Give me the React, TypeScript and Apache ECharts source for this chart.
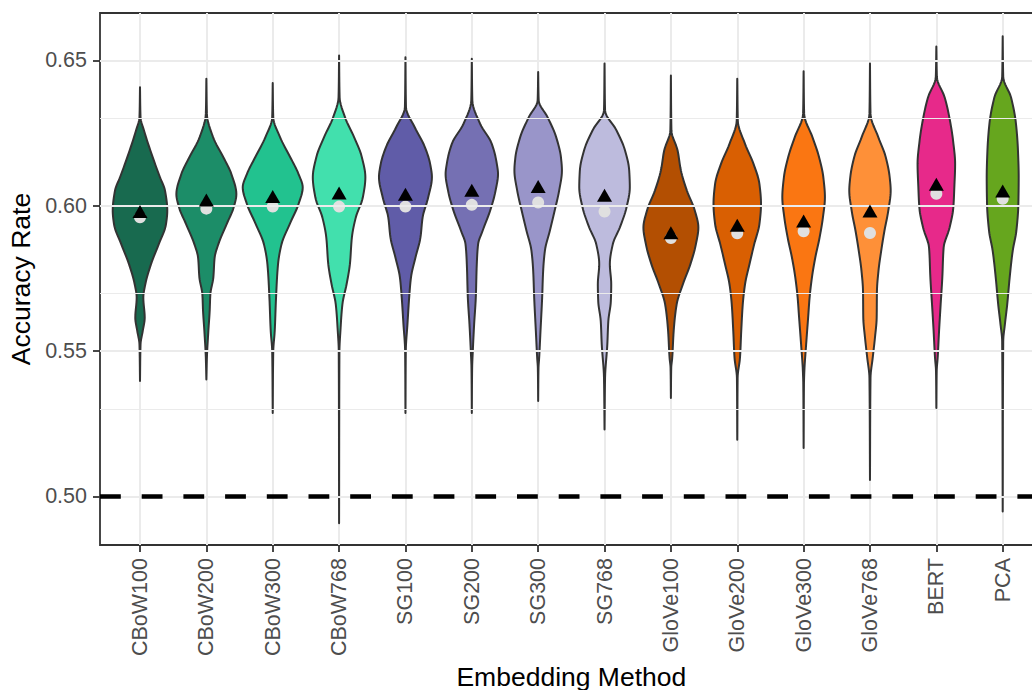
import React, { useEffect, useRef } from "react";
import * as echarts from "echarts";

// Embedding methods, in plotting order
const methods = [
  "CBoW100", "CBoW200", "CBoW300", "CBoW768",
  "SG100", "SG200", "SG300", "SG768",
  "GloVe100", "GloVe200", "GloVe300", "GloVe768",
  "BERT", "PCA",
];

const fillColors = [
  "#186A4F", "#1C8D68", "#22C28F", "#42E0AD",
  "#605CA8", "#7570B3", "#9995C9", "#BDBBDD",
  "#B34F02", "#D95F02", "#FA7612", "#FE9038",
  "#E7298A", "#66A61E",
];

// Mean (triangle) and median (dot) accuracy per method
const meanAccuracy = [
  0.5973, 0.6013, 0.6025, 0.6037,
  0.6033, 0.6046, 0.6059, 0.6029,
  0.5900, 0.5926, 0.5941, 0.5975,
  0.6067, 0.6044,
];
const medianAccuracy = [
  0.5960, 0.5990, 0.5997, 0.5997,
  0.5997, 0.6003, 0.6011, 0.5980,
  0.5889, 0.5905, 0.5912, 0.5906,
  0.6041, 0.6024,
];

// Kernel density outlines: [accuracy, density scaled to a share of the category spacing]
const cbow100Density = [
  [0.6408, 0], [0.6304, 0.008], [0.6259, 0.06], [0.6167, 0.191], [0.6098, 0.301],
  [0.6052, 0.377], [0.5983, 0.411], [0.5937, 0.392], [0.5868, 0.283], [0.5799, 0.166],
  [0.573, 0.08], [0.5684, 0.05], [0.5615, 0.071], [0.5569, 0.041], [0.5523, 0.008], [0.5397, 0],
];
const cbow200Density = [
  [0.6437, 0], [0.6316, 0.008], [0.6236, 0.101], [0.6167, 0.256], [0.6109, 0.377],
  [0.604, 0.452], [0.5994, 0.411], [0.5937, 0.306], [0.5868, 0.181], [0.5822, 0.125],
  [0.5753, 0.105], [0.5695, 0.06], [0.5638, 0.05], [0.5569, 0.03], [0.5477, 0.008], [0.5402, 0],
];
const cbow300Density = [
  [0.6422, 0], [0.6304, 0.008], [0.6236, 0.11], [0.6167, 0.264], [0.6109, 0.389],
  [0.6063, 0.452], [0.6006, 0.389], [0.5937, 0.256], [0.5868, 0.133], [0.5799, 0.08],
  [0.5684, 0.05], [0.5569, 0.03], [0.55, 0.008], [0.5287, 0],
];
const cbow768Density = [
  [0.6517, 0], [0.6373, 0.008], [0.6304, 0.09], [0.6236, 0.226], [0.6167, 0.343],
  [0.6098, 0.396], [0.6029, 0.358], [0.596, 0.252], [0.5891, 0.193], [0.5799, 0.163],
  [0.573, 0.113], [0.5661, 0.05], [0.5569, 0.02], [0.55, 0.005], [0.4908, 0],
];
const sg100Density = [
  [0.6511, 0], [0.6339, 0.008], [0.627, 0.14], [0.6201, 0.294], [0.6144, 0.372],
  [0.6098, 0.399], [0.6029, 0.343], [0.596, 0.259], [0.5891, 0.226], [0.5822, 0.151],
  [0.5753, 0.083], [0.5684, 0.056], [0.5592, 0.03], [0.55, 0.005], [0.5287, 0],
];
const sg200Density = [
  [0.6506, 0], [0.6362, 0.008], [0.6282, 0.125], [0.6213, 0.301], [0.6144, 0.377],
  [0.6109, 0.395], [0.6052, 0.358], [0.5983, 0.276], [0.5914, 0.163], [0.5868, 0.095],
  [0.5799, 0.075], [0.5684, 0.06], [0.5592, 0.035], [0.55, 0.015], [0.5442, 0.005], [0.5287, 0],
];
const sg300Density = [
  [0.646, 0], [0.6362, 0.008], [0.6304, 0.143], [0.6236, 0.271], [0.6167, 0.343],
  [0.6121, 0.358], [0.6052, 0.316], [0.5983, 0.248], [0.5914, 0.176], [0.5845, 0.101],
  [0.5776, 0.075], [0.5684, 0.06], [0.5569, 0.035], [0.5477, 0.015], [0.5442, 0.005], [0.5328, 0],
];
const sg768Density = [
  [0.6489, 0], [0.6328, 0.008], [0.6259, 0.181], [0.619, 0.309], [0.6121, 0.372],
  [0.6063, 0.381], [0.5994, 0.331], [0.5925, 0.23], [0.5868, 0.125], [0.5799, 0.08],
  [0.573, 0.101], [0.5672, 0.095], [0.5603, 0.057], [0.5523, 0.042], [0.5408, 0.008], [0.523, 0],
];
const glove100Density = [
  [0.6448, 0], [0.6259, 0.008], [0.619, 0.101], [0.6121, 0.151], [0.6052, 0.241],
  [0.5983, 0.361], [0.5925, 0.414], [0.5868, 0.377], [0.5799, 0.294], [0.573, 0.181],
  [0.5661, 0.087], [0.5569, 0.042], [0.5477, 0.02], [0.5442, 0.005], [0.5339, 0],
];
const glove200Density = [
  [0.6437, 0], [0.6293, 0.008], [0.6213, 0.117], [0.6144, 0.245], [0.6075, 0.334],
  [0.6006, 0.358], [0.5937, 0.334], [0.5868, 0.256], [0.5799, 0.184], [0.573, 0.117],
  [0.5661, 0.083], [0.5569, 0.06], [0.5477, 0.041], [0.5408, 0.005], [0.5195, 0],
];
const glove300Density = [
  [0.6463, 0], [0.6316, 0.008], [0.6236, 0.133], [0.6167, 0.233], [0.6098, 0.297],
  [0.6029, 0.321], [0.596, 0.291], [0.5891, 0.241], [0.5822, 0.176], [0.5753, 0.125],
  [0.5684, 0.09], [0.5615, 0.068], [0.5523, 0.038], [0.5431, 0.011], [0.5385, 0.005], [0.5167, 0],
];
const glove768Density = [
  [0.6489, 0], [0.6316, 0.008], [0.6236, 0.125], [0.6167, 0.238], [0.6098, 0.297],
  [0.6052, 0.312], [0.5983, 0.276], [0.5914, 0.218], [0.5845, 0.169], [0.5776, 0.128],
  [0.5707, 0.105], [0.5615, 0.101], [0.5546, 0.075], [0.5477, 0.041], [0.5408, 0.008], [0.5057, 0],
];
const bertDensity = [
  [0.6548, 0], [0.6443, 0.008], [0.6373, 0.125], [0.6304, 0.196], [0.6224, 0.252],
  [0.6144, 0.283], [0.6063, 0.271], [0.5994, 0.256], [0.5925, 0.2], [0.5856, 0.11],
  [0.5753, 0.09], [0.5661, 0.065], [0.5569, 0.041], [0.5477, 0.02], [0.5431, 0.005], [0.5304, 0],
];
const pcaDensity = [
  [0.6583, 0], [0.6443, 0.008], [0.6373, 0.125], [0.6282, 0.2], [0.619, 0.23],
  [0.6098, 0.241], [0.6006, 0.236], [0.5914, 0.206], [0.5845, 0.151], [0.5753, 0.105],
  [0.5661, 0.068], [0.5592, 0.033], [0.5534, 0.008], [0.4948, 0],
];

const densities = [
  cbow100Density, cbow200Density, cbow300Density, cbow768Density,
  sg100Density, sg200Density, sg300Density, sg768Density,
  glove100Density, glove200Density, glove300Density, glove768Density,
  bertDensity, pcaDensity,
];

const yTicks = [0.5, 0.55, 0.6, 0.65];
const yMinorTicks = [0.525, 0.575, 0.625];
const chanceLevel = 0.5;
const Y_MIN = 0.4833;
const Y_MAX = 0.6663;

const FONT = "'Liberation Sans', Arial, Helvetica, sans-serif";

// Monotone cubic (Fritsch–Carlson) resampling of a half-width profile in pixel space,
// so the violin outline is drawn as a smooth curve without overshooting.
function smoothProfile(ys: number[], ws: number[], steps: number): [number, number][] {
  const n = ys.length;
  const h: number[] = [];
  const d: number[] = [];
  for (let k = 0; k < n - 1; k++) {
    h.push(ys[k + 1] - ys[k]);
    d.push((ws[k + 1] - ws[k]) / (ys[k + 1] - ys[k]));
  }
  const m: number[] = new Array(n).fill(0);
  m[0] = d[0];
  m[n - 1] = d[n - 2];
  for (let k = 1; k < n - 1; k++) {
    if (d[k - 1] * d[k] <= 0) {
      m[k] = 0;
    } else {
      const w1 = 2 * h[k] + h[k - 1];
      const w2 = h[k] + 2 * h[k - 1];
      m[k] = (w1 + w2) / (w1 / d[k - 1] + w2 / d[k]);
    }
  }
  const out: [number, number][] = [];
  for (let k = 0; k < n - 1; k++) {
    for (let j = 0; j < steps; j++) {
      const t = j / steps;
      const t2 = t * t;
      const t3 = t2 * t;
      const w =
        (2 * t3 - 3 * t2 + 1) * ws[k] +
        (t3 - 2 * t2 + t) * h[k] * m[k] +
        (-2 * t3 + 3 * t2) * ws[k + 1] +
        (t3 - t2) * h[k] * m[k + 1];
      out.push([ys[k] + t * h[k], Math.max(0, w)]);
    }
  }
  out.push([ys[n - 1], ws[n - 1]]);
  return out;
}

export default function App() {
  const ref = useRef<HTMLDivElement>(null);

  useEffect(() => {
    if (!ref.current) return;
    const chart = echarts.init(ref.current, null, { renderer: "svg" });

    const option: any = {
      animation: false,
      textStyle: { fontFamily: FONT },
      grid: [
        {
          left: 100, top: 13, width: 942, height: 532,
          show: true, borderColor: "#333333", borderWidth: 1.8,
          backgroundColor: "transparent", outerBoundsMode: "none",
        },
        { left: 140, top: 13, width: 862.7, height: 532, outerBoundsMode: "none" },
      ],
      xAxis: [
        { gridIndex: 0, type: "value", min: 0, max: 1, show: false },
        {
          gridIndex: 1,
          type: "category",
          data: methods,
          boundaryGap: false,
          axisLine: { show: false },
          axisTick: {
            show: true, length: 7, interval: 0,
            lineStyle: { color: "#333333", width: 1.8 },
          },
          axisLabel: {
            interval: 0, rotate: 90, margin: 13,
            fontSize: 21.5, color: "#4D4D4D", fontFamily: FONT,
          },
          splitLine: { show: true, interval: 0, lineStyle: { color: "#EBEBEB", width: 2 } },
          name: "Embedding Method",
          nameLocation: "middle",
          nameGap: 109,
          nameTextStyle: { fontSize: 26.5, color: "#000000", fontFamily: FONT },
        },
      ],
      yAxis: [
        {
          gridIndex: 0,
          type: "value",
          min: Y_MIN,
          max: Y_MAX,
          axisLine: { show: false },
          axisTick: {
            show: true, length: 7, customValues: yTicks,
            lineStyle: { color: "#333333", width: 1.8 },
          },
          axisLabel: {
            customValues: yTicks, margin: 13,
            fontSize: 21.5, color: "#4D4D4D", fontFamily: FONT,
            formatter: (v: number) => v.toFixed(2),
          },
          splitLine: { show: false },
          name: "Accuracy Rate",
          nameLocation: "middle",
          nameGap: 63,
          nameTextStyle: { fontSize: 26.5, color: "#000000", fontFamily: FONT },
        },
        { gridIndex: 1, type: "value", min: Y_MIN, max: Y_MAX, show: false },
      ],
      series: [
        {
          // horizontal panel grid
          type: "line",
          xAxisIndex: 0,
          yAxisIndex: 0,
          data: [],
          silent: true,
          z: 1,
          markLine: {
            silent: true,
            symbol: ["none", "none"],
            label: { show: false },
            emphasis: { disabled: true },
            data: [
              ...yTicks.map((v) => ({
                yAxis: v,
                lineStyle: { color: "#EBEBEB", width: 2, type: "solid" },
              })),
              ...yMinorTicks.map((v) => ({
                yAxis: v,
                lineStyle: { color: "#EBEBEB", width: 1, type: "solid" },
              })),
            ],
          },
        },
        {
          // violins
          type: "custom",
          xAxisIndex: 1,
          yAxisIndex: 1,
          silent: true,
          z: 3,
          data: methods.map((_, i) => [i, medianAccuracy[i]]),
          renderItem: (params: any, api: any) => {
            const i = params.dataIndex;
            const profile = densities[i];
            const cx = api.coord([i, profile[0][0]])[0];
            const step = api.coord([1, 0.6])[0] - api.coord([0, 0.6])[0];
            const ys = profile.map(([v]) => api.coord([i, v])[1]);
            const ws = profile.map(([, d]) => d * step);
            const curve = smoothProfile(ys, ws, 8);
            const right = curve.map(([y, w]) => [cx + w, y]);
            const left = curve
              .slice(1, -1)
              .reverse()
              .map(([y, w]) => [cx - w, y]);
            return {
              type: "polygon",
              shape: { points: right.concat(left) },
              style: { fill: fillColors[i], stroke: "#333333", lineWidth: 2, lineJoin: "round" },
            };
          },
        },
        {
          // medians
          type: "scatter",
          xAxisIndex: 1,
          yAxisIndex: 1,
          silent: true,
          z: 4,
          symbol: "circle",
          symbolSize: 12,
          itemStyle: { color: "#E0E0E0", opacity: 1 },
          data: methods.map((_, i) => [i, medianAccuracy[i]]),
        },
        {
          // means
          type: "scatter",
          xAxisIndex: 1,
          yAxisIndex: 1,
          silent: true,
          z: 5,
          symbol: "triangle",
          symbolSize: [15, 13],
          symbolOffset: [0, -2],
          itemStyle: { color: "#000000", opacity: 1 },
          data: methods.map((_, i) => [i, meanAccuracy[i]]),
        },
        {
          // chance level reference line
          type: "line",
          xAxisIndex: 0,
          yAxisIndex: 0,
          data: [],
          silent: true,
          z: 6,
          markLine: {
            silent: true,
            symbol: ["none", "none"],
            label: { show: false },
            emphasis: { disabled: true },
            lineStyle: { color: "#000000", width: 4.5, type: [20.8, 20.9], cap: "butt" },
            data: [{ yAxis: chanceLevel }],
          },
        },
      ],
    };

    chart.setOption(option);
    return () => chart.dispose();
  }, []);

  return (
    <div
      ref={ref}
      style={{ position: "fixed", left: 0, top: 0, width: 1032, height: 690, background: "#ffffff" }}
    />
  );
}
